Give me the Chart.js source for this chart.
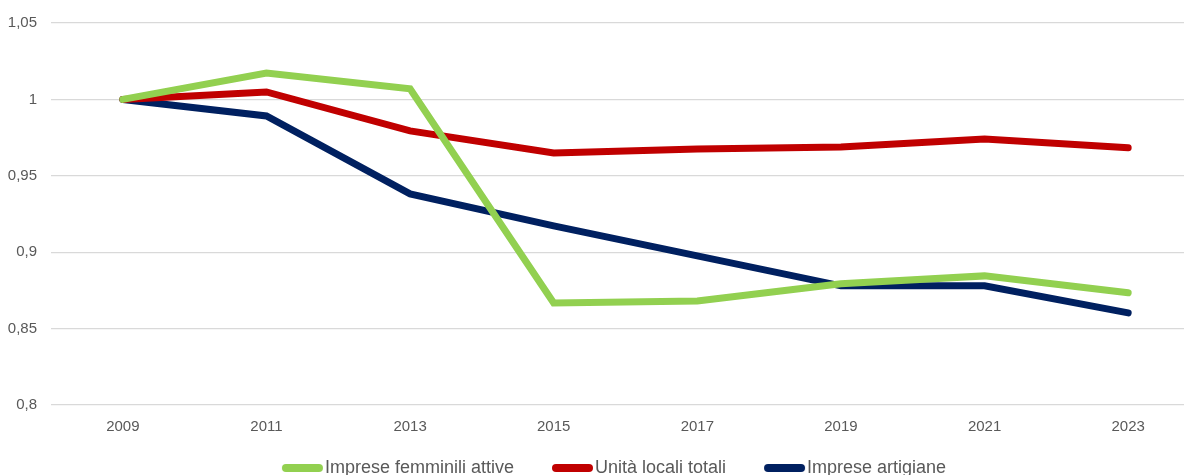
<!DOCTYPE html>
<html>
<head>
<meta charset="utf-8">
<script src="https://cdn.jsdelivr.net/npm/chart.js@4.4.1/dist/chart.umd.min.js"></script>
<style>
  html, body { margin: 0; padding: 0; background: #fff; overflow: hidden; }
  #wrap { width: 1200px; height: 487px; }
</style>
</head>
<body>
<div id="wrap"><canvas id="chart" width="1200" height="487"></canvas></div>
<script>
// Indici (2009 = 1)
const years = ['2009', '2011', '2013', '2015', '2017', '2019', '2021', '2023'];
const impreseFemminili = [1.0, 1.0173, 1.0069, 0.8668, 0.8681, 0.8793, 0.8845, 0.8734];
const unitaLocali = [1.0, 1.0049, 0.9794, 0.965, 0.9676, 0.9689, 0.9741, 0.9683];
const impreseArtigiane = [1.0, 0.9892, 0.9382, 0.9172, 0.8976, 0.878, 0.878, 0.8603];
const yTicks = [0.8, 0.85, 0.9, 0.95, 1, 1.05];

const seriesNames = ['Imprese femminili attive', 'Unità locali totali', 'Imprese artigiane'];
const seriesColors = ['#92d050', '#c00000', '#002060'];

// legend swatch: thick rounded line sitting right before the text
function makeSwatch(color) {
    const c = document.createElement('canvas');
    c.width = 140;
    c.height = 12;
    const g = c.getContext('2d');
    g.strokeStyle = color;
    g.lineWidth = 8;
    g.lineCap = 'round';
    g.beginPath();
    g.moveTo(71, 6);
    g.lineTo(104, 6);
    g.stroke();
    return c;
}

function line(label, data, color) {
    return {
        label: label,
        data: data,
        borderColor: color,
        backgroundColor: color,
        borderWidth: 7,
        borderCapStyle: 'round',
        borderJoinStyle: 'miter',
        pointRadius: 0,
        pointHoverRadius: 0,
        tension: 0,
        fill: false
    };
}

const tickFont = { family: '"Liberation Sans", Arial, sans-serif', size: 15 };

const ctx = document.getElementById('chart').getContext('2d');
new Chart(ctx, {
    type: 'line',
    data: {
        labels: years,
        datasets: [
            line(seriesNames[0], impreseFemminili, seriesColors[0]),
            line(seriesNames[1], unitaLocali, seriesColors[1]),
            line(seriesNames[2], impreseArtigiane, seriesColors[2])
        ]
    },
    options: {
        responsive: false,
        animation: false,
        layout: { padding: { top: 10, left: 0, right: 0, bottom: 0 } },
        plugins: {
            tooltip: { enabled: false },
            legend: {
                display: true,
                position: 'bottom',
                labels: {
                    usePointStyle: true,
                    pointStyleWidth: 62,
                    padding: 10,
                    color: '#595959',
                    font: { family: '"Liberation Sans Narrow", "Liberation Sans", Arial, sans-serif', size: 18 },
                    generateLabels: function(chart) {
                        return chart.data.datasets.map((ds, i) => ({
                            text: ds.label,
                            fillStyle: ds.borderColor,
                            strokeStyle: ds.borderColor,
                            lineWidth: 0,
                            pointStyle: makeSwatch(ds.borderColor),
                            hidden: false,
                            datasetIndex: i,
                            fontColor: '#595959'
                        }));
                    }
                }
            }
        },
        scales: {
            x: {
                offset: true,
                grid: { display: false, drawTicks: false },
                border: { display: false },
                ticks: {
                    color: '#595959',
                    padding: 13,
                    font: tickFont
                }
            },
            y: {
                min: 0.8,
                max: 1.05,
                afterBuildTicks: function(scale) {
                    scale.ticks = yTicks.map(v => ({ value: v }));
                },
                afterFit: function(scale) {
                    scale.width = 51;
                },
                grid: { color: '#d9d9d9', lineWidth: 1.3, drawTicks: false },
                border: { display: false },
                ticks: {
                    color: '#595959',
                    padding: 14,
                    font: tickFont,
                    callback: function(value) {
                        return String(Math.round(value * 100) / 100).replace('.', ',');
                    }
                }
            }
        }
    }
});
</script>
</body>
</html>
